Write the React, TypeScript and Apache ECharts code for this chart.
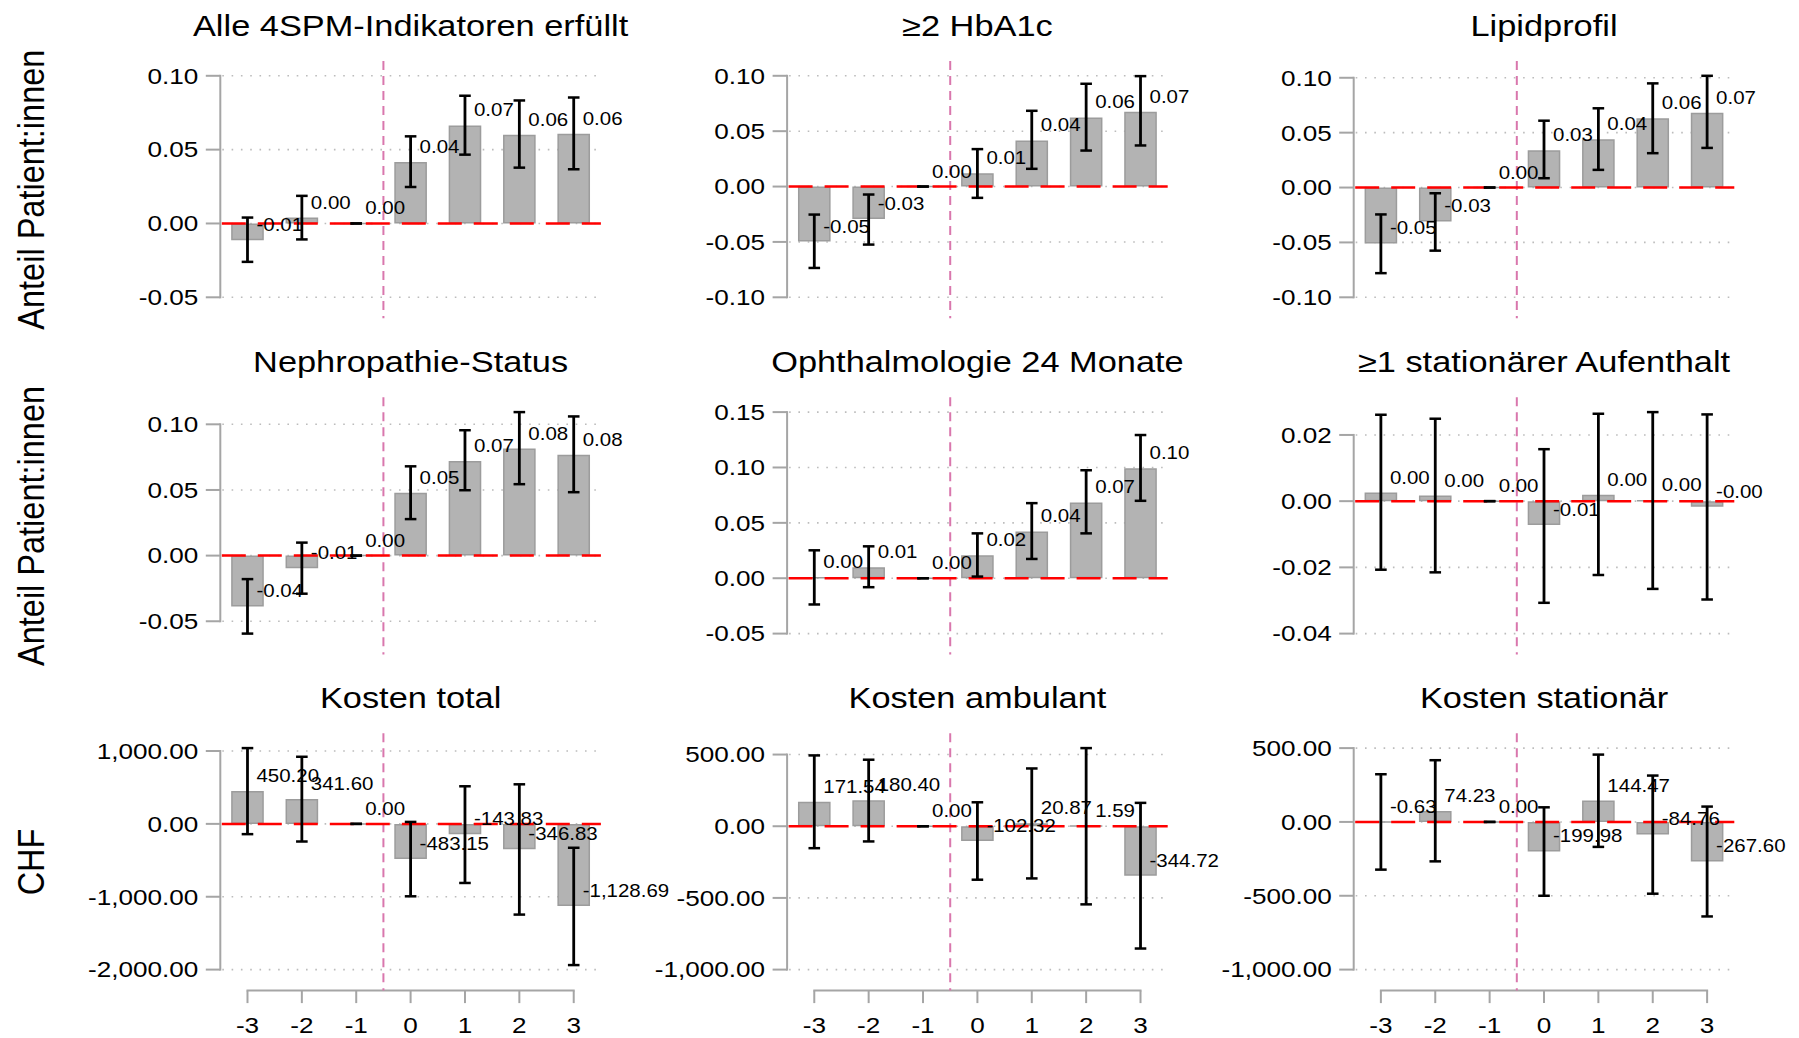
import React, { useEffect, useRef } from "react";
import * as echarts from "echarts";

// ---------- data ----------
const periods = ["-3", "-2", "-1", "0", "1", "2", "3"];

const panelTitles = [
  "Alle 4SPM-Indikatoren erfüllt",
  "≥2 HbA1c",
  "Lipidprofil",
  "Nephropathie-Status",
  "Ophthalmologie 24 Monate",
  "≥1 stationärer Aufenthalt",
  "Kosten total",
  "Kosten ambulant",
  "Kosten stationär",
];
const rowTitles = ["Anteil Patient:innen", "Anteil Patient:innen", "CHF"];

const estAlle = [-0.0113, 0.004, 0, 0.0416, 0.0664, 0.0601, 0.0608];
const loAlle = [-0.026, -0.0108, 0, 0.0247, 0.0466, 0.0378, 0.0367];
const hiAlle = [0.004, 0.0187, 0, 0.059, 0.0865, 0.0833, 0.0853];

const estHba = [-0.0497, -0.0292, 0, 0.0121, 0.0416, 0.0624, 0.0675];
const loHba = [-0.0735, -0.0524, 0, -0.0102, 0.016, 0.0325, 0.0371];
const hiHba = [-0.0253, -0.0072, 0, 0.0338, 0.0684, 0.0928, 0.0997];

const estLip = [-0.0509, -0.0309, 0, 0.034, 0.044, 0.0631, 0.0682];
const loLip = [-0.078, -0.0575, 0, 0.0085, 0.0161, 0.0313, 0.0361];
const hiLip = [-0.0245, -0.0052, 0, 0.0609, 0.0722, 0.0949, 0.1018];

const estNep = [-0.0387, -0.0096, 0, 0.0478, 0.0721, 0.0815, 0.0769];
const loNep = [-0.0594, -0.029, 0, 0.0278, 0.0498, 0.0544, 0.0483];
const hiNep = [-0.0179, 0.0099, 0, 0.068, 0.0955, 0.1093, 0.106];

const estOph = [0.0008, 0.0099, 0, 0.0207, 0.0423, 0.0684, 0.0993];
const loOph = [-0.0237, -0.0081, 0, 0.0015, 0.0174, 0.0405, 0.0699];
const hiOph = [0.0252, 0.0288, 0, 0.0405, 0.0678, 0.0975, 0.1293];

const estSta = [0.0026, 0.0017, 0, -0.0072, 0.0019, 0.0003, -0.0017];
const loSta = [-0.0207, -0.0215, 0, -0.0307, -0.0223, -0.0265, -0.0297];
const hiSta = [0.0261, 0.0249, 0, 0.0157, 0.0264, 0.0269, 0.0262];

const estKT = [450.2, 341.6, 0, -483.15, -143.83, -346.83, -1128.69];
const loKT = [-141, -242, 0, -994, -811, -1245, -1938];
const hiKT = [1040, 921, 0, 27, 516, 543, -328];

const estKA = [171.54, 180.4, 0, -102.32, 20.87, 1.59, -344.72];
const loKA = [-153, -106, 0, -373, -364, -545, -853];
const hiKA = [494, 464, 0, 167, 403, 545, 163];

const estKS = [-0.63, 74.23, 0, -199.98, 144.47, -84.76, -267.6];
const loKS = [-323, -267, 0, -500, -169, -486, -640];
const hiKS = [323, 418, 0, 99, 456, 314, 104];

const ticksA = [-0.05, 0, 0.05, 0.1];
const ticksB = [-0.1, -0.05, 0, 0.05, 0.1];
const ticksC = [-0.05, 0, 0.05, 0.1, 0.15];
const ticksD = [-0.04, -0.02, 0, 0.02];
const ticksE = [-2000, -1000, 0, 1000];
const ticksF = [-1000, -500, 0, 500];

// ---------- layout / style ----------
const W = 1799;
const H = 1038;
const GRID_LEFTS = [220.3, 787.1, 1353.7];
const GRID_TOPS = [61, 397.3, 733.3];
const GRID_W = 380.6;
const GRID_H = 257.3;
const TOP_PAD = 14.8;
const BOT_PAD = 21;

const FONT = "'Liberation Sans', Arial, Helvetica, sans-serif";
const AXIS_COLOR = "#a5a5a5";
const GRID_COLOR = "#bcbcbc";
const BAR_FILL = "#b3b3b3";
const BAR_EDGE = "#9c9c9c";
const RED = "#ff0000";
const PINK = "#d977ad";

const TITLE_SIZE = 29;
const TITLE_SX = 1.185;
const TICK_SIZE = 22.5;
const TICK_SX = 1.16;
const VAL_SIZE = 17.5;
const VAL_SX = 1.17;
const YT_SIZE = 32.5;
const YT_SY = 1.15;
const CAP = 5.8;

function fmt(v: number): string {
  const s = v.toFixed(2);
  const neg = s.charAt(0) === "-";
  const body = neg ? s.slice(1) : s;
  const parts = body.split(".");
  const intPart = parts[0].replace(/\B(?=(\d{3})+(?!\d))/g, ",");
  return (neg ? "-" : "") + intPart + "." + parts[1];
}

type Panel = { title: string; est: number[]; lo: number[]; hi: number[]; ticks: number[] };

const panels: Panel[] = [
  { title: panelTitles[0], est: estAlle, lo: loAlle, hi: hiAlle, ticks: ticksA },
  { title: panelTitles[1], est: estHba, lo: loHba, hi: hiHba, ticks: ticksB },
  { title: panelTitles[2], est: estLip, lo: loLip, hi: hiLip, ticks: ticksB },
  { title: panelTitles[3], est: estNep, lo: loNep, hi: hiNep, ticks: ticksA },
  { title: panelTitles[4], est: estOph, lo: loOph, hi: hiOph, ticks: ticksC },
  { title: panelTitles[5], est: estSta, lo: loSta, hi: hiSta, ticks: ticksD },
  { title: panelTitles[6], est: estKT, lo: loKT, hi: hiKT, ticks: ticksE },
  { title: panelTitles[7], est: estKA, lo: loKA, hi: hiKA, ticks: ticksF },
  { title: panelTitles[8], est: estKS, lo: loKS, hi: hiKS, ticks: ticksF },
];

function yRange(p: Panel) {
  const all = [...p.lo, ...p.hi, ...p.est, ...p.ticks];
  const mn = Math.min(...all);
  const mx = Math.max(...all);
  const perPx = (mx - mn) / (GRID_H - TOP_PAD - BOT_PAD);
  return { min: mn - BOT_PAD * perPx, max: mx + TOP_PAD * perPx };
}

function textEl(x: number, y: number, text: string, size: number, sx: number, align: string) {
  return {
    type: "text",
    x,
    y,
    scaleX: sx,
    style: {
      text,
      fontSize: size,
      fontFamily: FONT,
      fill: "#000",
      align,
      verticalAlign: "middle",
      textAlign: align,
      textVerticalAlign: "middle",
    },
  };
}

function buildOption() {
  const grid: any[] = [];
  const xAxis: any[] = [];
  const yAxis: any[] = [];
  const series: any[] = [];
  const graphic: any[] = [];

  panels.forEach((p, i) => {
    const row = Math.floor(i / 3);
    const col = i % 3;
    const left = GRID_LEFTS[col];
    const top = GRID_TOPS[row];
    grid.push({ left, top, width: GRID_W, height: GRID_H, outerBoundsMode: "none", containLabel: false });
    xAxis.push({ type: "category", gridIndex: i, data: periods, boundaryGap: true, show: false });
    const r = yRange(p);
    yAxis.push({ type: "value", gridIndex: i, min: r.min, max: r.max, show: false });

    const isBottom = row === 2;
    const tmin = Math.min(...p.ticks);
    const tmax = Math.max(...p.ticks);

    // frame: gridlines, y axis, ticks, labels, x axis on bottom row
    series.push({
      type: "custom",
      xAxisIndex: i,
      yAxisIndex: i,
      z: 1,
      clip: false,
      silent: true,
      data: [[0, 0]],
      encode: { x: 0, y: 1 },
      renderItem: (params: any, api: any) => {
        const cs = params.coordSys;
        const l = cs.x;
        const rgt = cs.x + cs.width;
        const bottom = cs.y + cs.height;
        const children: any[] = [];
        p.ticks.forEach((t) => {
          const y = api.coord([0, t])[1];
          children.push({
            type: "line",
            shape: { x1: l + 2, y1: y, x2: rgt, y2: y },
            style: { stroke: GRID_COLOR, lineWidth: 1.6, lineDash: [1.6, 7.7] },
          });
          children.push({
            type: "line",
            shape: { x1: l - 14.5, y1: y, x2: l, y2: y },
            style: { stroke: AXIS_COLOR, lineWidth: 2 },
          });
          children.push(textEl(l - 22, y, fmt(t), TICK_SIZE, TICK_SX, "right"));
        });
        const yT = api.coord([0, tmax])[1];
        const yB = api.coord([0, tmin])[1];
        children.push({
          type: "line",
          shape: { x1: l, y1: yT - 1, x2: l, y2: yB + 1 },
          style: { stroke: AXIS_COLOR, lineWidth: 2 },
        });
        if (isBottom) {
          const x0 = api.coord([0, 0])[0];
          const x6 = api.coord([periods.length - 1, 0])[0];
          children.push({
            type: "line",
            shape: { x1: x0 - 1, y1: bottom, x2: x6 + 1, y2: bottom },
            style: { stroke: AXIS_COLOR, lineWidth: 2 },
          });
          periods.forEach((lab, k) => {
            const x = api.coord([k, 0])[0];
            children.push({
              type: "line",
              shape: { x1: x, y1: bottom, x2: x, y2: bottom + 12.5 },
              style: { stroke: AXIS_COLOR, lineWidth: 2 },
            });
            children.push(textEl(x, bottom + 34.3, lab, TICK_SIZE, TICK_SX, "center"));
          });
        }
        return { type: "group", children };
      },
    });

    // bars
    series.push({
      type: "bar",
      xAxisIndex: i,
      yAxisIndex: i,
      z: 2,
      silent: true,
      barWidth: "60%",
      data: p.est,
      itemStyle: { color: BAR_FILL, borderColor: BAR_EDGE, borderWidth: 1.5 },
    });

    // reference lines: red zero line and pink vertical line between -1 and 0
    series.push({
      type: "custom",
      xAxisIndex: i,
      yAxisIndex: i,
      z: 3,
      clip: false,
      silent: true,
      data: [[0, 0]],
      encode: { x: 0, y: 1 },
      renderItem: (params: any, api: any) => {
        const cs = params.coordSys;
        const y0 = api.coord([0, 0])[1];
        const xa = api.coord([2, 0])[0];
        const xb = api.coord([3, 0])[0];
        const xm = (xa + xb) / 2;
        return {
          type: "group",
          children: [
            {
              type: "line",
              shape: { x1: xm, y1: cs.y, x2: xm, y2: cs.y + cs.height },
              style: { stroke: PINK, lineWidth: 2, lineDash: [9, 6] },
            },
            {
              type: "line",
              shape: { x1: cs.x + 1.5, y1: y0, x2: cs.x + cs.width, y2: y0 },
              style: { stroke: RED, lineWidth: 2.5, lineDash: [24, 12] },
            },
          ],
        };
      },
    });

    // value labels
    series.push({
      type: "custom",
      xAxisIndex: i,
      yAxisIndex: i,
      z: 4,
      clip: false,
      silent: true,
      data: p.est.map((v, k) => [k, v]),
      encode: { x: 0, y: 1 },
      renderItem: (params: any, api: any) => {
        const k = api.value(0);
        const v = api.value(1);
        const pt = api.coord([k, v]);
        return textEl(pt[0] + 9, pt[1] - 15, fmt(p.est[params.dataIndex]), VAL_SIZE, VAL_SX, "left");
      },
    });

    // error bars
    series.push({
      type: "custom",
      xAxisIndex: i,
      yAxisIndex: i,
      z: 5,
      clip: false,
      silent: true,
      data: p.est.map((_, k) => [k, p.lo[k], p.hi[k]]),
      encode: { x: 0, y: [1, 2] },
      renderItem: (params: any, api: any) => {
        const k = api.value(0);
        const pl = api.coord([k, api.value(1)]);
        const ph = api.coord([k, api.value(2)]);
        const x = pl[0];
        const st = { stroke: "#000", lineWidth: 2.5 };
        return {
          type: "group",
          children: [
            { type: "line", shape: { x1: x, y1: ph[1], x2: x, y2: pl[1] }, style: { stroke: "#000", lineWidth: 2.8 } },
            { type: "line", shape: { x1: x - CAP, y1: ph[1], x2: x + CAP, y2: ph[1] }, style: st },
            { type: "line", shape: { x1: x - CAP, y1: pl[1], x2: x + CAP, y2: pl[1] }, style: st },
          ],
        };
      },
    });

    // panel title
    graphic.push({
      type: "text",
      x: left + GRID_W / 2,
      y: top - 35,
      scaleX: TITLE_SX,
      silent: true,
      style: {
        text: p.title,
        fontSize: TITLE_SIZE,
        fontFamily: FONT,
        fill: "#000",
        align: "center",
        verticalAlign: "middle",
        textAlign: "center",
        textVerticalAlign: "middle",
      },
    });
  });

  rowTitles.forEach((t, row) => {
    graphic.push({
      type: "text",
      x: 30.5,
      y: GRID_TOPS[row] + GRID_H / 2,
      rotation: Math.PI / 2,
      scaleY: YT_SY,
      silent: true,
      style: {
        text: t,
        fontSize: YT_SIZE,
        fontFamily: FONT,
        fill: "#000",
        align: "center",
        verticalAlign: "middle",
        textAlign: "center",
        textVerticalAlign: "middle",
      },
    });
  });

  return {
    animation: false,
    backgroundColor: "#ffffff",
    grid,
    xAxis,
    yAxis,
    series,
    graphic: { elements: graphic },
  };
}

export default function App() {
  const ref = useRef<HTMLDivElement>(null);
  useEffect(() => {
    if (!ref.current) return;
    const chart = echarts.init(ref.current, undefined, { renderer: "svg", width: W, height: H });
    chart.setOption(buildOption() as any);
    return () => {
      chart.dispose();
    };
  }, []);
  return (
    <div
      ref={ref}
      style={{ position: "fixed", left: 0, top: 0, width: W, height: H, background: "#ffffff" }}
    />
  );
}
